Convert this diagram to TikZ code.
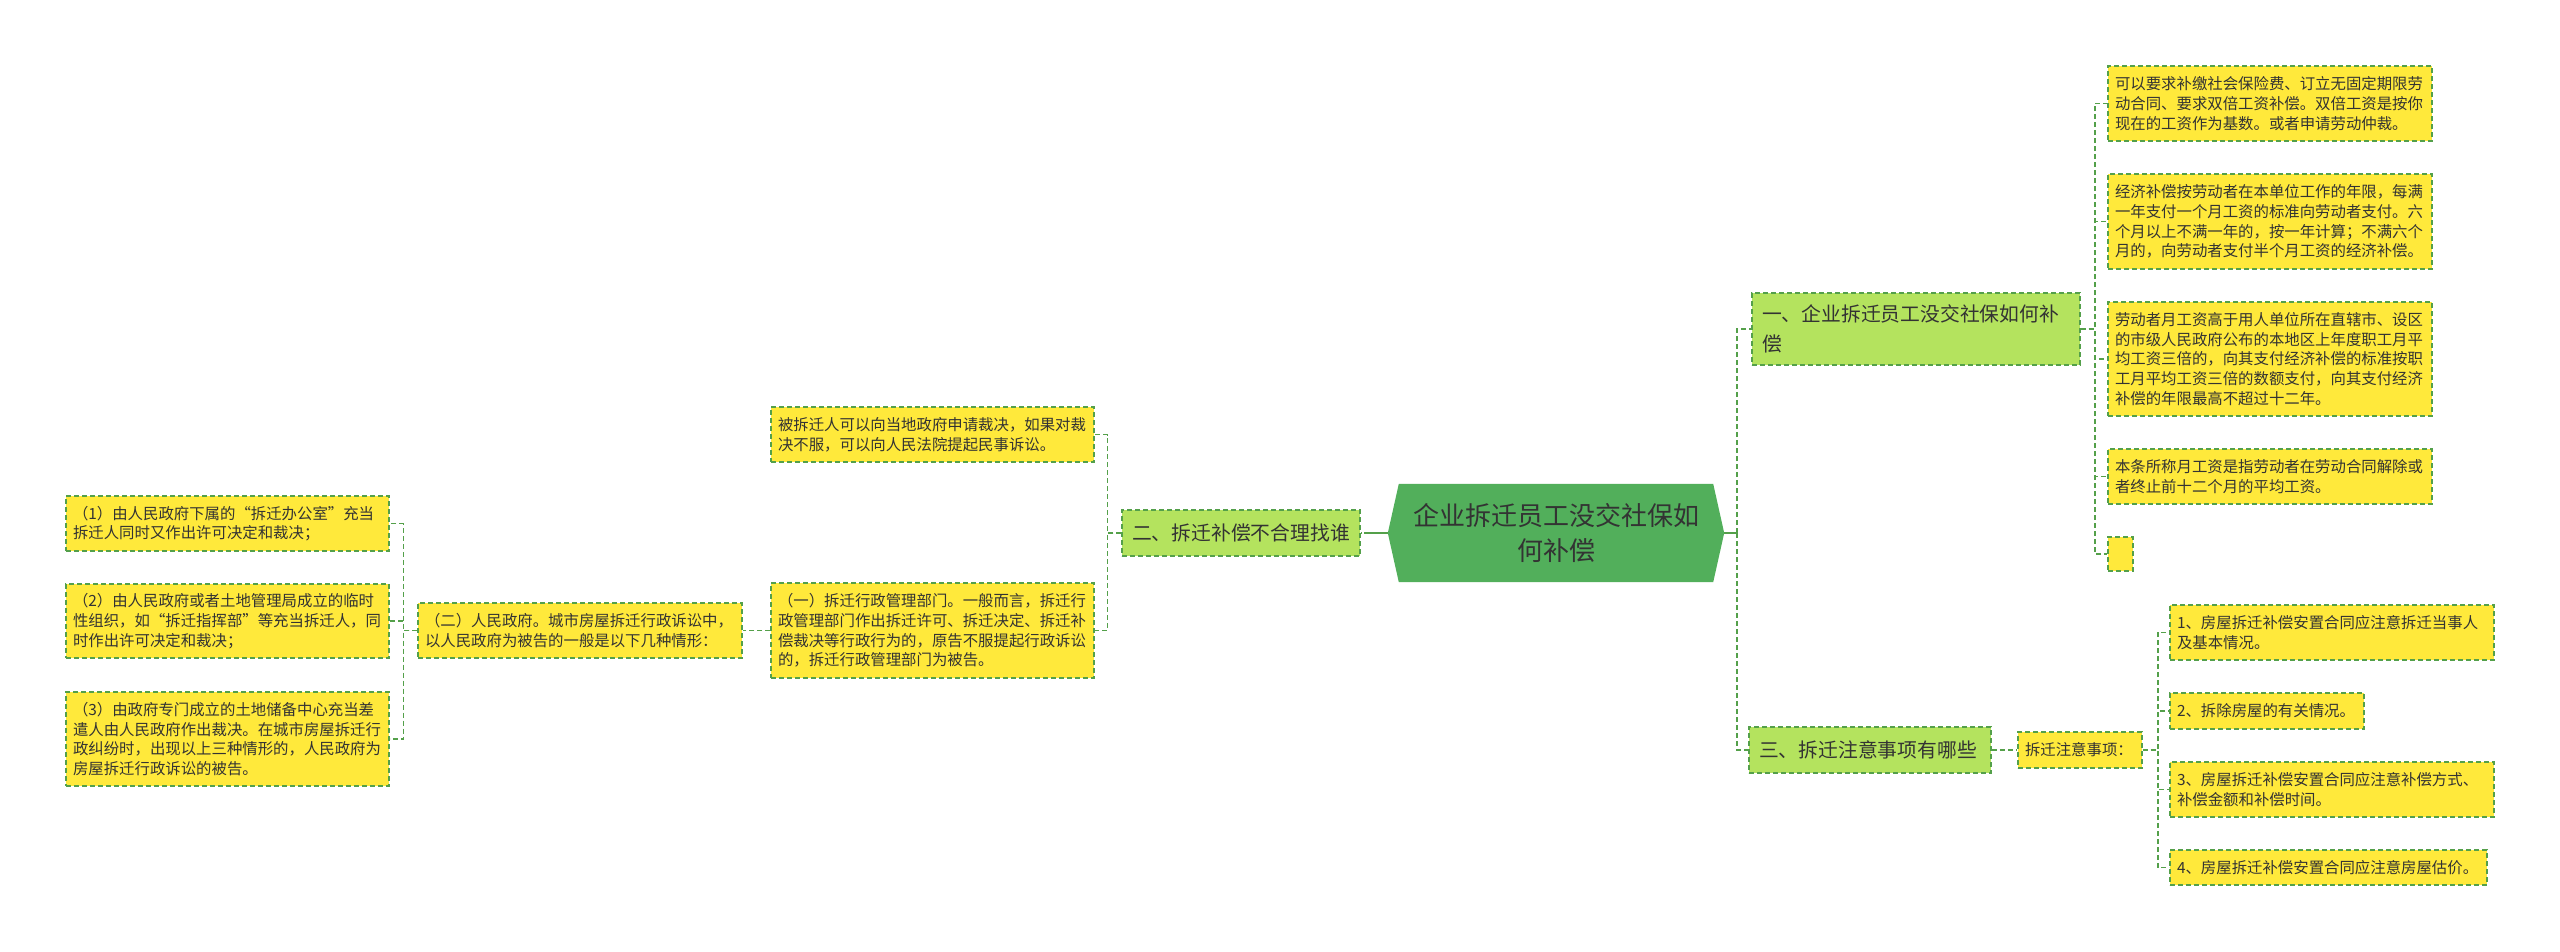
\documentclass[tikz,border=0pt]{standalone}
\usepackage{fontspec}
\setmainfont{Noto Sans CJK SC}
\usetikzlibrary{backgrounds}
\definecolor{yel}{HTML}{FFE93B}
\definecolor{lgreen}{HTML}{B4E35E}
\definecolor{hexc}{HTML}{52AF5B}
\definecolor{bordc}{HTML}{54A04A}
\definecolor{linec}{HTML}{54A04A}
\definecolor{txt}{HTML}{333333}
\tikzset{
  yelbox/.style={draw=bordc, dash pattern=on 5pt off 3pt, line width=1.5pt, fill=yel, text=txt,
    font=\fontsize{15.4}{19.7}\selectfont, align=left, inner xsep=7pt, inner ysep=0pt, anchor=center},
  grnbox/.style={draw=bordc, dash pattern=on 5pt off 3pt, line width=1.5pt, fill=lgreen, text=txt,
    font=\fontsize{19.8}{30}\selectfont, align=left, inner xsep=10pt, inner ysep=0pt, anchor=center},
  rootnode/.style={text=txt, font=\fontsize{26}{35}\selectfont, align=center, inner sep=0pt,
    minimum width=314pt, minimum height=98pt, anchor=center},
  conn/.style={draw=linec, dash pattern=on 5pt off 3pt, line width=1.5pt},
  solidconn/.style={draw=linec, line width=1.8pt},
}
\begin{document}
\begin{tikzpicture}[x=1pt,y=-1pt]
\useasboundingbox (0,0) rectangle (2560,951);

% root
\node[rootnode] (root) at (1556,533) {企业拆迁员工没交社保如\\何补偿};
\coordinate (rootL) at ([xshift=-11pt]root.west);
\coordinate (rootR) at ([xshift=11pt]root.east);
\begin{scope}[on background layer]
\fill[hexc] (rootL) -- (root.north west) -- (root.north east) -- (rootR) -- (root.south east) -- (root.south west) -- cycle;
\end{scope}

% first branch (right top)
\node[grnbox, text width=308pt, minimum height=72pt] (n1) at (1916,329) {一、企业拆迁员工没交社保如何补\\偿};
\node[yelbox, text width=310pt, minimum height=75pt] (a1) at (2270,103.5) {可以要求补缴社会保险费、订立无固定期限劳\\动合同、要求双倍工资补偿。双倍工资是按你\\现在的工资作为基数。或者申请劳动仲裁。};
\node[yelbox, text width=310pt, minimum height=95pt] (a2) at (2270,221.5) {经济补偿按劳动者在本单位工作的年限，每满\\一年支付一个月工资的标准向劳动者支付。六\\个月以上不满一年的，按一年计算；不满六个\\月的，向劳动者支付半个月工资的经济补偿。};
\node[yelbox, text width=310pt, minimum height=114pt] (a3) at (2270,359) {劳动者月工资高于用人单位所在直辖市、设区\\的市级人民政府公布的本地区上年度职工月平\\均工资三倍的，向其支付经济补偿的标准按职\\工月平均工资三倍的数额支付，向其支付经济\\补偿的年限最高不超过十二年。};
\node[yelbox, text width=310pt, minimum height=55pt] (a4) at (2270,476.5) {本条所称月工资是指劳动者在劳动合同解除或\\者终止前十二个月的平均工资。};
\node[yelbox, text width=11pt, minimum height=34pt] (a5) at (2120.5,554) {};

% third branch (right bottom)
\node[grnbox, text width=222pt, minimum height=46pt] (n3) at (1870,750) {三、拆迁注意事项有哪些};
\node[yelbox, text width=110pt, minimum height=36pt] (s) at (2080,750) {拆迁注意事项：};
\node[yelbox, text width=310pt, minimum height=55pt] (b1) at (2332,632.5) {1、房屋拆迁补偿安置合同应注意拆迁当事人\\及基本情况。};
\node[yelbox, text width=180pt, minimum height=36pt] (b2) at (2267,711) {2、拆除房屋的有关情况。};
\node[yelbox, text width=310pt, minimum height=55pt] (b3) at (2332,789.5) {3、房屋拆迁补偿安置合同应注意补偿方式、\\补偿金额和补偿时间。};
\node[yelbox, text width=303pt, minimum height=35pt] (b4) at (2328.5,867.5) {4、房屋拆迁补偿安置合同应注意房屋估价。};

% second branch (left)
\node[grnbox, text width=218pt, minimum height=46pt] (n2) at (1241,533) {二、拆迁补偿不合理找谁};
\node[yelbox, text width=309pt, minimum height=55pt] (c1) at (932.5,434.5) {被拆迁人可以向当地政府申请裁决，如果对裁\\决不服，可以向人民法院提起民事诉讼。};
\node[yelbox, text width=309pt, minimum height=95pt] (c2) at (932.5,630.5) {（一）拆迁行政管理部门。一般而言，拆迁行\\政管理部门作出拆迁许可、拆迁决定、拆迁补\\偿裁决等行政行为的，原告不服提起行政诉讼\\的，拆迁行政管理部门为被告。};
\node[yelbox, text width=310pt, minimum height=55pt] (d) at (580,630.5) {（二）人民政府。城市房屋拆迁行政诉讼中，\\以人民政府为被告的一般是以下几种情形：};
\node[yelbox, text width=309pt, minimum height=55pt] (e1) at (227.5,523.5) {（1）由人民政府下属的“拆迁办公室”充当\\拆迁人同时又作出许可决定和裁决；};
\node[yelbox, text width=309pt, minimum height=74pt] (e2) at (227.5,621) {（2）由人民政府或者土地管理局成立的临时\\性组织，如“拆迁指挥部”等充当拆迁人，同\\时作出许可决定和裁决；};
\node[yelbox, text width=309pt, minimum height=94pt] (e3) at (227.5,739) {（3）由政府专门成立的土地储备中心充当差\\遣人由人民政府作出裁决。在城市房屋拆迁行\\政纠纷时，出现以上三种情形的，人民政府为\\房屋拆迁行政诉讼的被告。};

% connectors
\coordinate (trR) at ([xshift=13pt]rootR);
\draw[solidconn] (rootR) -- (trR);
\draw[conn] (trR) |- (n1.west);
\draw[conn] (trR) |- (n3.west);
\foreach \c in {a1,a2,a3,a4,a5} \draw[conn] (n1.east) -- ++(14,0) |- (\c.west);
\draw[conn] (n3.east) -- (s.west);
\foreach \c in {b1,b2,b3,b4} \draw[conn] (s.east) -- ++(15,0) |- (\c.west);
\coordinate (stL) at ([xshift=-19pt]rootL);
\draw[solidconn] (rootL) -- (stL);
\draw[conn] (stL) -- (n2.east);
\foreach \c in {c1,c2} \draw[conn] (n2.west) -- ++(-14,0) |- (\c.east);
\draw[conn] (c2.west) -- (d.east);
\foreach \c in {e1,e2,e3} \draw[conn] (d.west) -- ++(-14,0) |- (\c.east);
\end{tikzpicture}
\end{document}
